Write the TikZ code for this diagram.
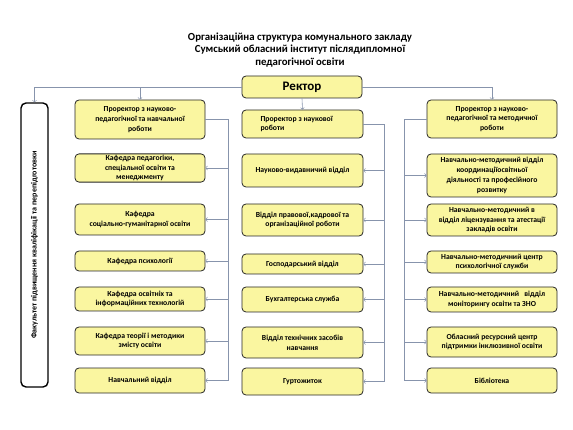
\documentclass[tikz,border=0pt]{standalone}
\usepackage{fontspec}
\setmainfont{Carlito}
\usepackage{tikz}
\usetikzlibrary{positioning, calc}
\definecolor{boxfill}{RGB}{250,246,160}
\definecolor{linkgray}{RGB}{135,148,172}

\begin{document}
\begin{tikzpicture}[x=1pt, y=-1pt,
        unit/.style={rectangle, draw=black!85, line width=0.8pt, fill=boxfill, rounded corners=4pt, align=center, inner sep=1pt, font=\bfseries\fontsize{7.7}{9.8}\selectfont},
        lcol/.style={unit, minimum width=130pt},
        mcol/.style={unit, minimum width=121pt},
        rcol/.style={unit, minimum width=130pt},
        faculty/.style={rectangle, draw=black, line width=1.4pt, fill=white, rounded corners=5pt, rotate=90, minimum width=284pt, minimum height=27pt, font=\bfseries\fontsize{8}{9}\selectfont},
        conn/.style={draw=linkgray, line width=0.6pt, ->}]

        \useasboundingbox (0,0) rectangle (573,430);

        \node [font=\bfseries\fontsize{10.8}{12.6}\selectfont, align=center] (title) at (300,50) {Організаційна структура комунального закладу\\Сумський обласний інститут післядипломної\\педагогічної освіти};
        \node [unit, minimum width=120pt, minimum height=22pt, font=\bfseries\fontsize{13}{14}\selectfont] (rector) at (302,87) {Ректор};

        \node [faculty] (fac) at (34.5,245) {Факультет підвищення кваліфікації та перепідготовки};

        % left column
        \node [lcol, minimum height=39pt] (l1) at (140,119.5) {Проректор з науково-\\педагогічної та навчальної\\роботи};
        \node [lcol, minimum height=28pt] (l2) at (140,168) {Кафедра  педагогіки,\\спеціальної  освіти та\\менеджменту};
        \node [lcol, minimum height=31pt] (l3) at (140,219.5) {Кафедра\\соціально-гуманітарної освіти};
        \node [lcol, minimum height=20pt] (l4) at (140,261) {Кафедра психології};
        \node [lcol, minimum height=24pt] (l5) at (140,299) {Кафедра освітніх та\\інформаційних технологій};
        \node [lcol, minimum height=28pt] (l6) at (140,341) {Кафедра теорії і методики\\змісту освіти};
        \node [lcol, minimum height=25pt] (l7) at (140,380.5) {Навчальний відділ};

        % middle column
        \node [mcol, minimum height=28pt, align=left] (m1) at (302.5,124) {Проректор з наукової\\роботи\hspace*{60pt}};
        \node [mcol, minimum height=33pt] (m2) at (302.5,170.5) {Науково-видавничий відділ};
        \node [mcol, minimum height=32pt] (m3) at (302.5,220) {Відділ правової,кадрової та\\організаційної роботи};
        \node [mcol, minimum height=20pt] (m4) at (302.5,264) {Господарський відділ};
        \node [mcol, minimum height=25pt] (m5) at (302.5,299.5) {Бухгалтерська служба};
        \node [mcol, minimum height=31pt] (m6) at (302.5,342.5) {Відділ технічних засобів\\навчання};
        \node [mcol, minimum height=27pt] (m7) at (302.5,381.5) {Гуртожиток};

        % right column
        \node [rcol, minimum height=38pt] (r1) at (492,119) {Проректор з науково-\\педагогічної та методичної\\роботи};
        \node [rcol, minimum height=43pt] (r2) at (492,175.5) {Навчально-методичний відділ\\координаціїосвітньої\\діяльності та професійного\\розвитку};
        \node [rcol, minimum height=32pt] (r3) at (492,220) {Навчально-методичний в\\відділ ліцензування та атестації\\закладів освіти};
        \node [rcol, minimum height=22pt] (r4) at (492,262) {Навчально-методичний центр\\психологічної служби};
        \node [rcol, minimum height=25pt] (r5) at (492,299.5) {Навчально-методичний \ \ відділ\\моніторингу освіти та ЗНО};
        \node [rcol, minimum height=30pt] (r6) at (492,342) {Обласний ресурсний центр\\підтримки інклюзивної освіти};
        \node [rcol, minimum height=25pt] (r7) at (492,380.5) {Бібліотека};

        % Paths
        \draw [conn] (rector.west) -| (fac.east);
        \draw [conn] (rector.west) -| (l1.north);
        \draw [conn] (rector.east) -| (r1.north);
        \draw [conn] (rector.south) -- (m1.north);

        \foreach \n in {l2,l3,l4,l5,l6,l7}
            \draw [conn] (l1.east) -| ([xshift=23pt]\n.east) -- (\n.east);
        \foreach \n in {m2,m3,m4,m5,m6,m7}
            \draw [conn] (m1.east) -| ([xshift=21pt]\n.east) -- (\n.east);
        \foreach \n in {r2,r3,r4,r5,r6,r7}
            \draw [conn] (r1.west) -| ([xshift=-22pt]\n.west) -- (\n.west);

    \end{tikzpicture}
\end{document}
